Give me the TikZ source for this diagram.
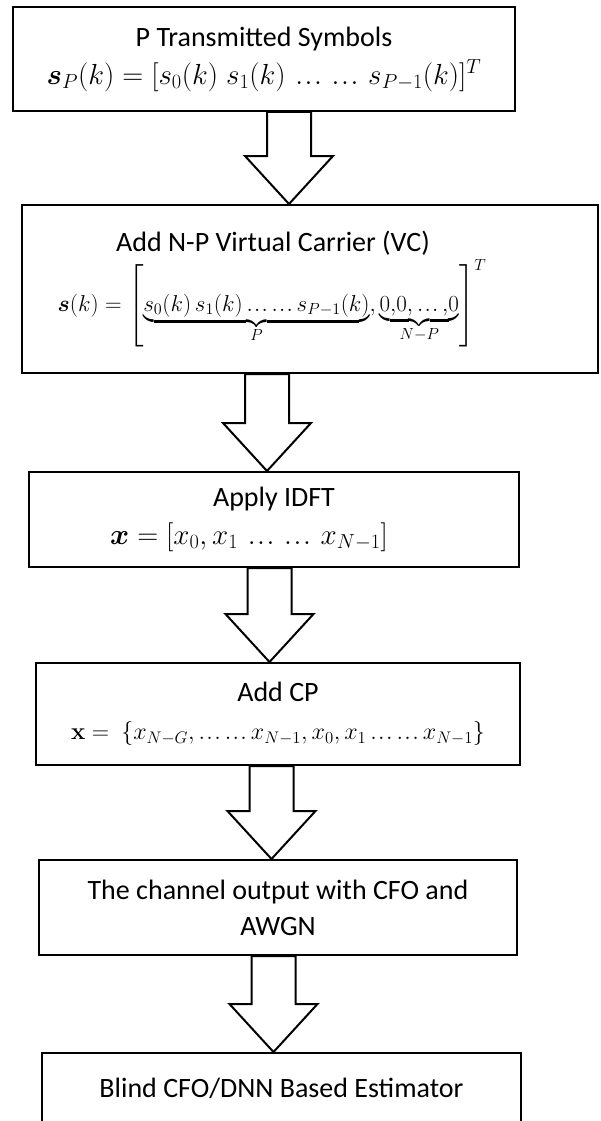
\RequirePackage{fix-cm}
\documentclass[tikz,border=0pt]{standalone}
\usepackage{amsmath, amssymb}
\usepackage[no-math]{fontspec}
\setmainfont{Carlito}
\usepackage{tikz}
\usetikzlibrary{calc}

% compact ellipsis
\newcommand{\tdots}{\mathinner{.\mkern1mu.\mkern1mu.}}
% hollow block arrow: tip x, from node, to node
\newcommand{\blockarrow}[3]{%
  \draw[hollow arrow] let \p1=(#2.south), \p2=(#3.north) in
    (#1pt-22pt,\y1) -- (#1pt-22pt,\y2+48pt) -- (#1pt-44pt,\y2+48pt) -- (#1pt,\y2)
    -- (#1pt+44pt,\y2+48pt) -- (#1pt+22pt,\y2+48pt) -- (#1pt+22pt,\y1) -- cycle;}

\begin{document}
\begin{tikzpicture}[x=1pt, y=-1pt, line width=2pt,
        box/.style={rectangle, draw, align=center, inner sep=0pt,
          font=\fontsize{28}{38}\selectfont},
        hollow arrow/.style={draw, fill=white, line join=miter}]
    \clip (0,0) rectangle (600,1121);

    % Nodes
    \node[box, minimum width=502pt, minimum height=104pt] (1) at (264,59)
      {P Transmitted Symbols\\
       {\fontsize{29}{40}\selectfont
        $\boldsymbol{s}_P(k) = [s_0(k)\; s_1(k)\, \tdots\, \tdots\, s_{P-1}(k)]^T$}};
    \node[box, minimum width=576pt, minimum height=168pt] (2) at (310,289)
      {Add N-P Virtual Carrier (VC)\hspace*{74pt}\\[3pt]
       {\fontsize{23}{30}\selectfont
        $\boldsymbol{s}(k) = \left[\underbrace{s_0(k)\, s_1(k)\tdots\tdots s_{P-1}(k)}_{P},
        \underbrace{0{,}0{,}\tdots{,}0}_{N-P}\right]^T$}\hspace*{76pt}};
    \node[box, minimum width=490pt, minimum height=95pt] (3) at (274,519.5)
      {Apply IDFT\\
       {\fontsize{29}{40}\selectfont
        $\boldsymbol{x} = [x_0, x_1\, \tdots\, \tdots\, x_{N-1}]$}\hspace*{50pt}};
    \node[box, minimum width=484pt, minimum height=102pt] (4) at (278,714)
      {Add CP\\
       {\fontsize{24}{36}\selectfont
        $\mathbf{x} =\ \{x_{N-G}, \tdots\tdots x_{N-1}, x_0, x_1 \tdots\tdots x_{N-1}\}$}};
    \node[box, minimum width=478pt, minimum height=95pt, font=\fontsize{28}{36}\selectfont]
      (5) at (278,907.5) {The channel output with CFO and\\ AWGN};
    \node[box, minimum width=479pt, minimum height=70pt] (6) at (281.5,1088)
      {Blind CFO/DNN Based Estimator};

    % Edges
    \blockarrow{289}{1}{2}
    \blockarrow{267}{2}{3}
    \blockarrow{269.5}{3}{4}
    \blockarrow{271.5}{4}{5}
    \blockarrow{273.5}{5}{6}

\end{tikzpicture}
\end{document}
